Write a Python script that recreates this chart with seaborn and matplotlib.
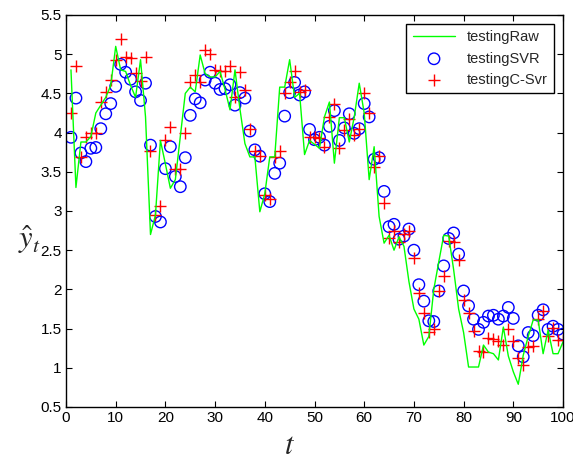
import numpy as np
import pandas as pd
import matplotlib
matplotlib.use("Agg")
import matplotlib.pyplot as plt
import seaborn as sns

t = list(range(1, 101))

testing_raw = [
    4.80, 3.30, 3.88, 3.88, 3.95, 4.25, 4.35, 4.45, 4.60, 5.10,
    4.80, 4.78, 4.60, 4.45, 4.93, 4.20, 2.70, 2.95, 3.90, 3.60,
    3.29, 3.40, 3.95, 4.50, 4.58, 4.52, 4.99, 4.75, 4.71, 4.71,
    4.78, 4.55, 4.29, 4.80, 4.30, 3.86, 3.69, 3.69, 2.99, 3.22,
    3.69, 3.69, 4.58, 4.58, 4.93, 4.45, 4.50, 3.72, 3.90, 3.85,
    3.80, 4.20, 4.39, 3.61, 4.19, 4.19, 3.88, 4.20, 4.63, 4.25,
    3.40, 3.82, 2.93, 2.59, 2.69, 2.50, 2.67, 2.55, 2.10, 1.75,
    1.62, 1.29, 1.40, 2.00, 2.35, 2.69, 2.68, 2.25, 1.75, 1.45,
    1.01, 1.01, 1.01, 1.29, 1.20, 1.18, 1.10, 1.52, 1.15, 0.95,
    0.79, 1.16, 1.40, 1.61, 1.61, 1.18, 1.48, 1.18, 1.18, 1.33,
]

testing_svr = [
    3.94, 4.44, 3.74, 3.63, 3.80, 3.81, 4.05, 4.24, 4.37, 4.59,
    4.87, 4.77, 4.68, 4.52, 4.41, 4.63, 3.84, 2.93, 2.86, 3.54,
    3.82, 3.44, 3.31, 3.68, 4.22, 4.43, 4.38, 4.67, 4.77, 4.63,
    4.55, 4.56, 4.61, 4.35, 4.51, 4.44, 4.02, 3.78, 3.70, 3.22,
    3.12, 3.48, 3.61, 4.21, 4.51, 4.64, 4.48, 4.52, 4.04, 3.91,
    3.94, 3.84, 4.08, 4.28, 3.90, 4.06, 4.24, 3.99, 4.05, 4.37,
    4.20, 3.66, 3.68, 3.25, 2.80, 2.83, 2.64, 2.68, 2.77, 2.50,
    2.06, 1.85, 1.60, 1.59, 1.98, 2.30, 2.65, 2.72, 2.45, 1.98,
    1.79, 1.62, 1.49, 1.58, 1.66, 1.67, 1.62, 1.66, 1.77, 1.63,
    1.28, 1.14, 1.45, 1.41, 1.67, 1.74, 1.49, 1.53, 1.49, 1.43,
]

testing_csvr = [
    4.25, 4.85, 3.69, 3.95, 4.00, 4.00, 4.39, 4.52, 4.67, 4.93,
    5.20, 4.97, 4.95, 4.76, 4.66, 4.97, 3.77, 2.95, 3.06, 3.91,
    4.07, 3.54, 3.54, 4.00, 4.64, 4.73, 4.64, 5.05, 5.00, 4.80,
    4.78, 4.78, 4.85, 4.46, 4.77, 4.54, 4.04, 3.76, 3.70, 3.20,
    3.15, 3.69, 3.77, 4.50, 4.64, 4.78, 4.52, 4.54, 3.94, 3.94,
    3.93, 3.82, 4.20, 4.36, 3.80, 4.03, 4.17, 3.97, 4.05, 4.51,
    4.25, 3.56, 3.70, 3.10, 2.65, 2.75, 2.60, 2.71, 2.74, 2.40,
    1.95, 1.70, 1.46, 1.50, 1.98, 2.17, 2.62, 2.60, 2.38, 1.87,
    1.70, 1.47, 1.21, 1.20, 1.38, 1.37, 1.34, 1.29, 1.50, 1.34,
    1.12, 1.04, 1.27, 1.28, 1.62, 1.72, 1.40, 1.51, 1.36, 1.35,
]

x_ticks = [0, 10, 20, 30, 40, 50, 60, 70, 80, 90, 100]
y_ticks = [0.5, 1, 1.5, 2, 2.5, 3, 3.5, 4, 4.5, 5, 5.5]
y_tick_labels = ["0.5", "1", "1.5", "2", "2.5", "3", "3.5", "4", "4.5", "5", "5.5"]

df = pd.DataFrame({"t": t, "raw": testing_raw, "svr": testing_svr, "csvr": testing_csvr})

sns.set_style("white")
plt.rcParams["font.family"] = ["Liberation Sans", "DejaVu Sans"]
plt.rcParams["mathtext.fontset"] = "stix"

fig = plt.figure(figsize=(5.73, 4.62), dpi=100)
ax = fig.add_axes([66 / 573, 1 - 407 / 462, (563 - 66) / 573, (407 - 15) / 462])

sns.lineplot(data=df, x="t", y="raw", ax=ax, color="#00ff00", linewidth=1.0,
             label="testingRaw", estimator=None, sort=False)
sns.scatterplot(data=df, x="t", y="svr", ax=ax, marker="o", s=68,
                facecolors="none", edgecolor="#0000ff", linewidth=1.0,
                label="testingSVR")
sns.scatterplot(data=df, x="t", y="csvr", ax=ax, marker="+", s=75,
                color="#ff0000", linewidth=1.0, label="testingC-Svr")

ax.set_xlim(0, 100)
ax.set_ylim(0.5, 5.5)
ax.set_xticks(x_ticks)
ax.set_yticks(y_ticks)
ax.set_yticklabels(y_tick_labels)
ax.tick_params(direction="in", length=4, width=0.8, labelsize=11,
               top=True, right=True, bottom=True, left=True, colors="black",
               pad=3)
for sp in ax.spines.values():
    sp.set_visible(True)
    sp.set_color("black")
    sp.set_linewidth(1.0)

ax.set_xlabel("$t$", fontsize=22)
ax.xaxis.set_label_coords((290 - 66) / 497, -0.06)
ax.set_ylabel(r"$\hat{y}_t$", fontsize=22, rotation=0, va="center", ha="center")
ax.yaxis.set_label_coords((30 - 66) / 497, (407 - 240) / 392)

handles, labels = ax.get_legend_handles_labels()
leg = ax.legend(handles, labels, loc="upper right", fontsize=10.5, frameon=True,
                fancybox=False, edgecolor="black", framealpha=1,
                borderaxespad=0.6, handlelength=2.9, scatterpoints=1,
                borderpad=0.45, labelspacing=0.5)
leg.get_frame().set_linewidth(1.0)

fig.savefig("out.png", dpi=100)
